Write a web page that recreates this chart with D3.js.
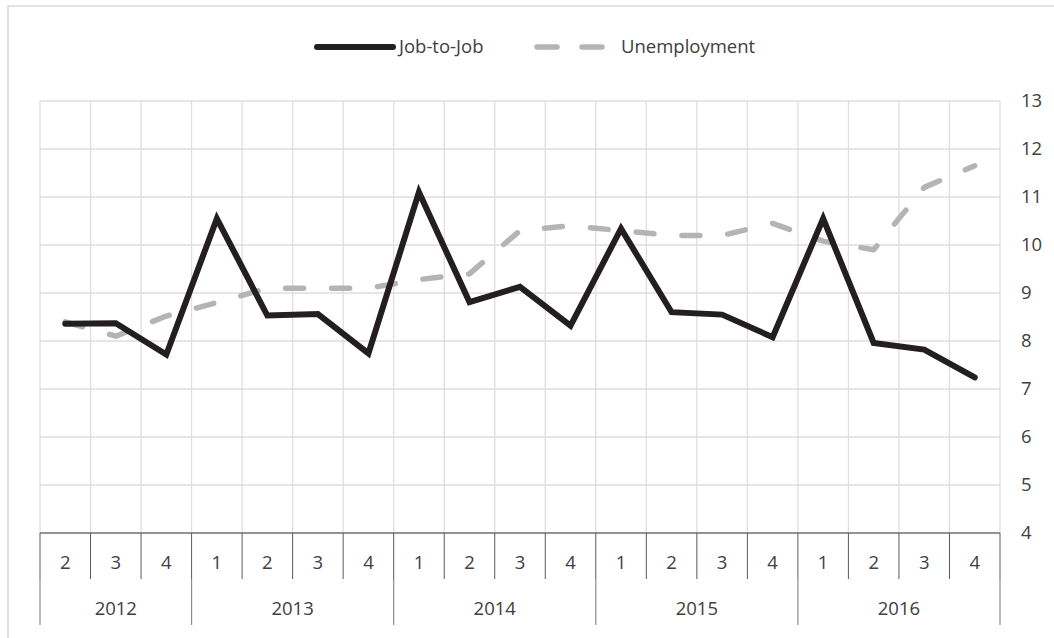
<!DOCTYPE html>
<html>
<head>
<meta charset="utf-8">
<script src="https://cdn.jsdelivr.net/npm/d3@7"></script>
<style>
  body { margin: 0; background: #fff; }
  text { font-family: "Open Sans", sans-serif; fill: #404040; }
</style>
</head>
<body>
<div id="chart"></div>
<script>
// quarters 2012Q2 .. 2016Q4
var quarters = ["2","3","4","1","2","3","4","1","2","3","4","1","2","3","4","1","2","3","4"]
var years = [
  {label: "2012", from: 0, to: 3},
  {label: "2013", from: 3, to: 7},
  {label: "2014", from: 7, to: 11},
  {label: "2015", from: 11, to: 15},
  {label: "2016", from: 15, to: 19}
]
var jobToJob = [8.36, 8.37, 7.72, 10.55, 8.53, 8.56, 7.74, 11.1, 8.81, 9.13, 8.32,
                10.34, 8.6, 8.55, 8.08, 10.55, 7.96, 7.82, 7.24]
var unemployment = [8.4, 8.1, 8.52, 8.8, 9.1, 9.1, 9.1, 9.28, 9.4, 10.3, 10.4,
                    10.3, 10.2, 10.2, 10.45, 10.08, 9.9, 11.2, 11.65]
var yTicks = [4, 5, 6, 7, 8, 9, 10, 11, 12, 13]

var W = 1054, H = 638
var plotL = 40, plotR = 1000, plotT = 101, plotB = 533

var svg = d3.select('#chart').append('svg')
  .attr('width', W)
  .attr('height', H)

// outer chart border
svg.append('rect')
  .attr('x', 8).attr('y', 6)
  .attr('width', W).attr('height', H)
  .attr('fill', 'none')
  .attr('stroke', '#d9d9d9')
  .attr('stroke-width', 1.5)

var x = d3.scaleBand()
  .domain(d3.range(quarters.length))
  .range([plotL, plotR])
var y = d3.scaleLinear()
  .domain([4, 13])
  .range([plotB, plotT])

// horizontal grid
svg.append('g').selectAll('line')
  .data(yTicks)
  .enter()
  .append('line')
  .attr('x1', plotL).attr('x2', plotR)
  .attr('y1', function(d){ return y(d)})
  .attr('y2', function(d){ return y(d)})
  .attr('stroke', '#dedede')
  .attr('stroke-width', 1.3)

// vertical grid
svg.append('g').selectAll('line')
  .data(d3.range(quarters.length + 1))
  .enter()
  .append('line')
  .attr('x1', function(d){ return plotL + d * x.bandwidth()})
  .attr('x2', function(d){ return plotL + d * x.bandwidth()})
  .attr('y1', plotT).attr('y2', plotB)
  .attr('stroke', '#dedede')
  .attr('stroke-width', 1.3)

// right axis labels
svg.append('g').selectAll('text')
  .data(yTicks)
  .enter()
  .append('text')
  .attr('x', 1021)
  .attr('y', function(d){ return y(d)})
  .attr('dy', '0.35em')
  .attr('font-size', 18.5)
  .text(function(d){ return d})

// category axis
svg.append('line')
  .attr('x1', plotL).attr('x2', plotR)
  .attr('y1', plotB).attr('y2', plotB)
  .attr('stroke', '#404040')
  .attr('stroke-width', 1.2)

svg.append('g').selectAll('line')
  .data(d3.range(quarters.length + 1))
  .enter()
  .append('line')
  .attr('x1', function(d){ return plotL + d * x.bandwidth()})
  .attr('x2', function(d){ return plotL + d * x.bandwidth()})
  .attr('y1', plotB).attr('y2', 579)
  .attr('stroke', '#595959')
  .attr('stroke-width', 1)

svg.append('g').selectAll('line')
  .data([0].concat(years.map(function(d){ return d.to})))
  .enter()
  .append('line')
  .attr('x1', function(d){ return plotL + d * x.bandwidth()})
  .attr('x2', function(d){ return plotL + d * x.bandwidth()})
  .attr('y1', 579).attr('y2', 625)
  .attr('stroke', '#8c8c8c')
  .attr('stroke-width', 1.2)

svg.append('g').selectAll('text')
  .data(quarters)
  .enter()
  .append('text')
  .attr('x', function(d, i){ return x(i) + x.bandwidth() / 2})
  .attr('y', 563)
  .attr('dy', '0.35em')
  .attr('text-anchor', 'middle')
  .attr('font-size', 18.5)
  .text(function(d){ return d})

svg.append('g').selectAll('text')
  .data(years)
  .enter()
  .append('text')
  .attr('x', function(d){ return plotL + (d.from + d.to) / 2 * x.bandwidth()})
  .attr('y', 609)
  .attr('dy', '0.35em')
  .attr('text-anchor', 'middle')
  .attr('font-size', 18.5)
  .text(function(d){ return d.label})

// lines
var line = d3.line()
  .x(function(d, i){ return x(i) + x.bandwidth() / 2})
  .y(function(d){ return y(d)})

svg.append('path')
  .datum(unemployment)
  .attr('d', line)
  .attr('fill', 'none')
  .attr('stroke', '#b3b4b6')
  .attr('stroke-width', 5.5)
  .attr('stroke-dasharray', '18,28')
  .attr('stroke-linecap', 'round')
  .attr('stroke-linejoin', 'round')

svg.append('path')
  .datum(jobToJob)
  .attr('d', line)
  .attr('fill', 'none')
  .attr('stroke', '#231f20')
  .attr('stroke-width', 6)
  .attr('stroke-linejoin', 'miter')
  .attr('stroke-linecap', 'round')

// legend
var lg = svg.append('g')
lg.append('line')
  .attr('x1', 317).attr('x2', 393)
  .attr('y1', 47).attr('y2', 47)
  .attr('stroke', '#231f20')
  .attr('stroke-width', 6)
  .attr('stroke-linecap', 'round')
lg.append('text')
  .attr('x', 399).attr('y', 47)
  .attr('dy', '0.35em')
  .attr('font-size', 18.5)
  .text('Job-to-Job')
lg.append('line')
  .attr('x1', 537).attr('x2', 607)
  .attr('y1', 47).attr('y2', 47)
  .attr('stroke', '#b3b4b6')
  .attr('stroke-width', 5.5)
  .attr('stroke-dasharray', '20,25')
  .attr('stroke-linecap', 'round')
lg.append('text')
  .attr('x', 621).attr('y', 47)
  .attr('dy', '0.35em')
  .attr('font-size', 18.5)
  .text('Unemployment')
</script>
</body>
</html>
